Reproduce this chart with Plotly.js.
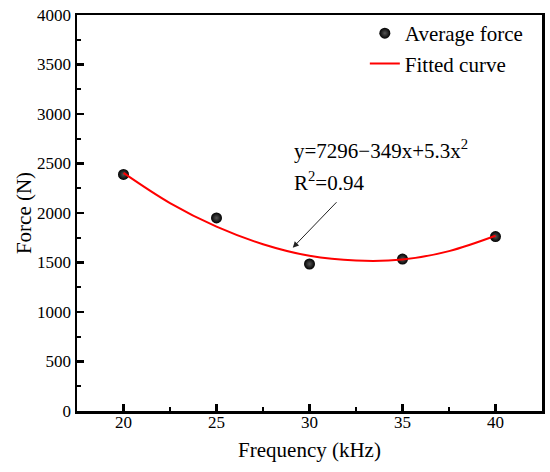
<!DOCTYPE html>
<html>
<head>
<meta charset="utf-8">
<script src="https://cdn.plot.ly/plotly-3.0.1.min.js"></script>
<style>html,body{margin:0;padding:0;background:#fff;}#chart{width:550px;height:472px;}</style>
</head>
<body>
<div id="chart"></div>
<script>
// Measured data points
const frequency = [20, 25, 30, 35, 40];
const avgForce = [2390, 1950, 1485, 1535, 1762];

// Fitted curve
const fitX = [20, 22.5, 25, 27.5, 30, 32.5, 35, 37.5, 40];
const fitY = [2405, 2100, 1862, 1685, 1568, 1520, 1530, 1615, 1770];

const xTicks = [20, 25, 30, 35, 40];
const yTicks = [0, 500, 1000, 1500, 2000, 2500, 3000, 3500, 4000];

const equationText = 'y=7296\u2212349x+5.3x<sup>2</sup>';
const r2Text = 'R<sup>2</sup>=0.94';

const FONT = 'Liberation Serif';

const traces = [
  {
    x: frequency, y: avgForce, mode: 'markers', type: 'scatter', name: 'Average force',
    marker: {color: '#000', size: 11, gradient: {type: 'radial', color: '#555555'}}
  },
  {
    x: fitX, y: fitY, mode: 'lines', type: 'scatter', name: 'Fitted curve',
    line: {color: '#ff0000', width: 2, shape: 'spline', smoothing: 1.0}
  }
];

function makeAxis(extra) {
  const a = {
    showgrid: false, zeroline: false, showline: true, mirror: true,
    linecolor: '#000', linewidth: 2.5,
    ticks: 'inside', ticklen: 7, tickwidth: 2.5, tickcolor: '#000',
    tickfont: {family: FONT, size: 17, color: '#000'}
  };
  return Object.assign(a, extra);
}

const layout = {
  width: 550, height: 472,
  margin: {l: 77, r: 8, t: 15, b: 61},
  paper_bgcolor: '#fff', plot_bgcolor: '#fff',
  font: {family: FONT, size: 17, color: '#000'},
  xaxis: makeAxis({
    range: [17.5, 42.5], tickmode: 'array', tickvals: xTicks, ticktext: xTicks.map(String),
    minor: {ticks: 'inside', ticklen: 4, tickwidth: 2, tickcolor: '#000', dtick: 2.5, tick0: 20},
    ticklabelstandoff: -6,
    title: {text: 'Frequency (kHz)', font: {family: FONT, size: 21, color: '#000'}, standoff: 12}
  }),
  yaxis: makeAxis({
    range: [0, 4000], tickmode: 'array', tickvals: yTicks, ticktext: yTicks.map(String),
    minor: {ticks: 'inside', ticklen: 4, tickwidth: 2, tickcolor: '#000', dtick: 250, tick0: 0},
    title: {text: 'Force (N)', font: {family: FONT, size: 21, color: '#000'}, standoff: 0}
  }),
  showlegend: true,
  legend: {
    x: 0.619, y: 1.005, xanchor: 'left', yanchor: 'top',
    bgcolor: 'rgba(0,0,0,0)', borderwidth: 0,
    font: {family: FONT, size: 21, color: '#000'},
    tracegroupgap: 0
  },
  annotations: [
    {
      x: 29.1, y: 1650, ax: 31.53, ay: 2124, xref: 'x', yref: 'y', axref: 'x', ayref: 'y',
      text: '', showarrow: true, arrowhead: 2, arrowsize: 1.2, arrowwidth: 1, arrowcolor: '#222'
    },
    {
      x: 29.05, y: 2640, xref: 'x', yref: 'y', xanchor: 'left', yanchor: 'middle',
      text: equationText, showarrow: false, font: {family: FONT, size: 21, color: '#000'}
    },
    {
      x: 29.05, y: 2315, xref: 'x', yref: 'y', xanchor: 'left', yanchor: 'middle',
      text: r2Text, showarrow: false, font: {family: FONT, size: 21, color: '#000'}
    }
  ]
};

Plotly.newPlot('chart', traces, layout, {displayModeBar: false, staticPlot: true});
</script>
</body>
</html>
